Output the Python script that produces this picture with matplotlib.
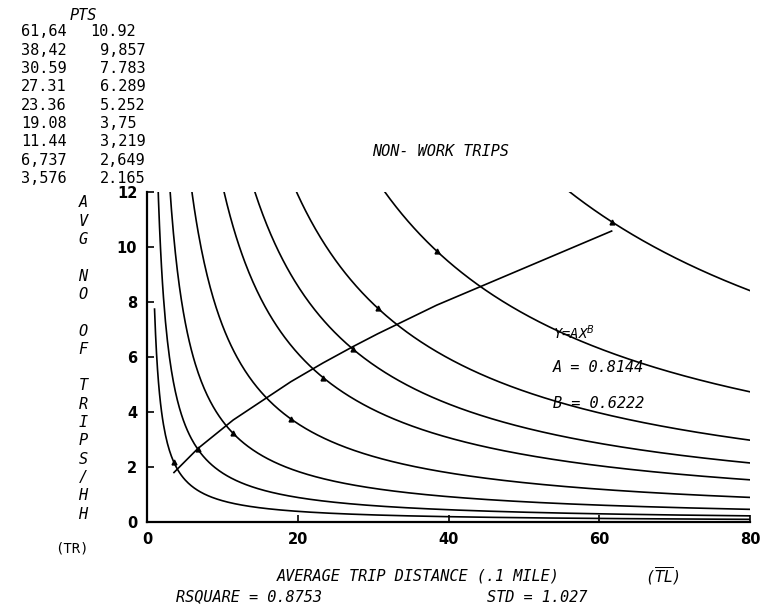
import numpy as np
import matplotlib
matplotlib.use('Agg')
import matplotlib.pyplot as plt

# points printed in the PTS table (avg trip distance, avg trips per hh)
pts_x = [61.64, 38.42, 30.59, 27.31, 23.36, 19.08, 11.44, 6.737, 3.576]
pts_y = [10.92, 9.857, 7.783, 6.289, 5.252, 3.75, 3.219, 2.649, 2.165]
# table text as it appears on the scan
pts_left = ['61,64', '38,42', '30.59', '27.31', '23.36', '19.08', '11.44', '6,737', '3,576']
pts_right = ['10.92', '9,857', '7.783', '6.289', '5.252', '3,75', '3,219', '2,649', '2.165']

# fitted curve Y = A * X^B
coef_a = 0.8144
coef_b = 0.6222
rsquare = 0.8753
std = 1.027

x_ticks = [0, 20, 40, 60, 80]
y_ticks = [0, 2, 4, 6, 8, 10, 12]
ylabel_text = 'AVG NO OF TRIPS/HH'

W, H = 767, 608
MONO = 'DejaVu Sans Mono'


def ftext(px, py, s, **kw):
    kw.setdefault('family', MONO)
    fig.text(px / W, 1 - py / H, s, **kw)


fig = plt.figure(figsize=(W / 100, H / 100), dpi=100)
ax = fig.add_axes([147 / W, 86 / H, (750 - 147) / W, (522 - 192) / H])

# iso-lines x*y = const through each point, drawn from x = 1
xs = np.linspace(1, 80, 600)
for px, py in zip(pts_x, pts_y):
    ax.plot(xs, px * py / xs, color='black', lw=1.2)

# fitted curve evaluated at the point distances
fx = np.array(sorted(pts_x))
ax.plot(fx, coef_a * fx ** coef_b, color='black', lw=1.2)

ax.plot(pts_x, pts_y, linestyle='none', marker='^', markersize=3.5,
        color='black')

ax.set_xlim(0, 80)
ax.set_ylim(0, 12)
ax.set_xticks(x_ticks)
ax.set_yticks(y_ticks)
ax.spines['top'].set_visible(False)
ax.spines['right'].set_visible(False)
for s in ['left', 'bottom']:
    ax.spines[s].set_linewidth(1.6)
ax.tick_params(direction='in', length=5, width=1.2, pad=7,
               labelsize=10.5)
for lab in ax.get_xticklabels() + ax.get_yticklabels():
    lab.set_fontweight('bold')

# PTS table
ftext(83, 15, 'PTS', ha='center', va='center', style='italic', fontsize=11)
for i, (a, b) in enumerate(zip(pts_left, pts_right)):
    y = 32 + i * 18.3
    ftext(67, y, a, ha='right', va='center', fontsize=11)
    n_int = len(b.replace(',', '.').split('.')[0])
    ftext(90 + 10 * (2 - n_int), y, b, ha='left', va='center', fontsize=11)

ftext(440, 152, 'NON- WORK TRIPS', ha='center', va='center',
      style='italic', fontsize=11)

# stacked y label
for i, ch in enumerate(ylabel_text):
    if ch != ' ':
        ftext(83, 203 + i * 18.3, ch, ha='center', va='center',
              style='italic', fontsize=11)
ftext(72, 548, '(TR)', ha='center', va='center', fontsize=10)

ftext(418, 576, 'AVERAGE TRIP DISTANCE (.1 MILE)', ha='center', va='center',
      style='italic', fontsize=11)
ftext(663, 576, r'($\overline{\mathit{TL}}$)', ha='center', va='center',
      style='italic', fontsize=11)
ftext(176, 597, f'RSQUARE = {rsquare}', ha='left', va='center',
      style='italic', fontsize=11)
ftext(487, 597, f'STD = {std}', ha='left', va='center',
      style='italic', fontsize=11)

ftext(553, 333, 'Y=AX$^B$', ha='left', va='center', style='italic',
      fontsize=10)
ftext(553, 368, f'A = {coef_a}', ha='left', va='center', style='italic',
      fontsize=11)
ftext(553, 403, f'B = {coef_b}', ha='left', va='center', style='italic',
      fontsize=11)

fig.savefig('out.png', dpi=100)
